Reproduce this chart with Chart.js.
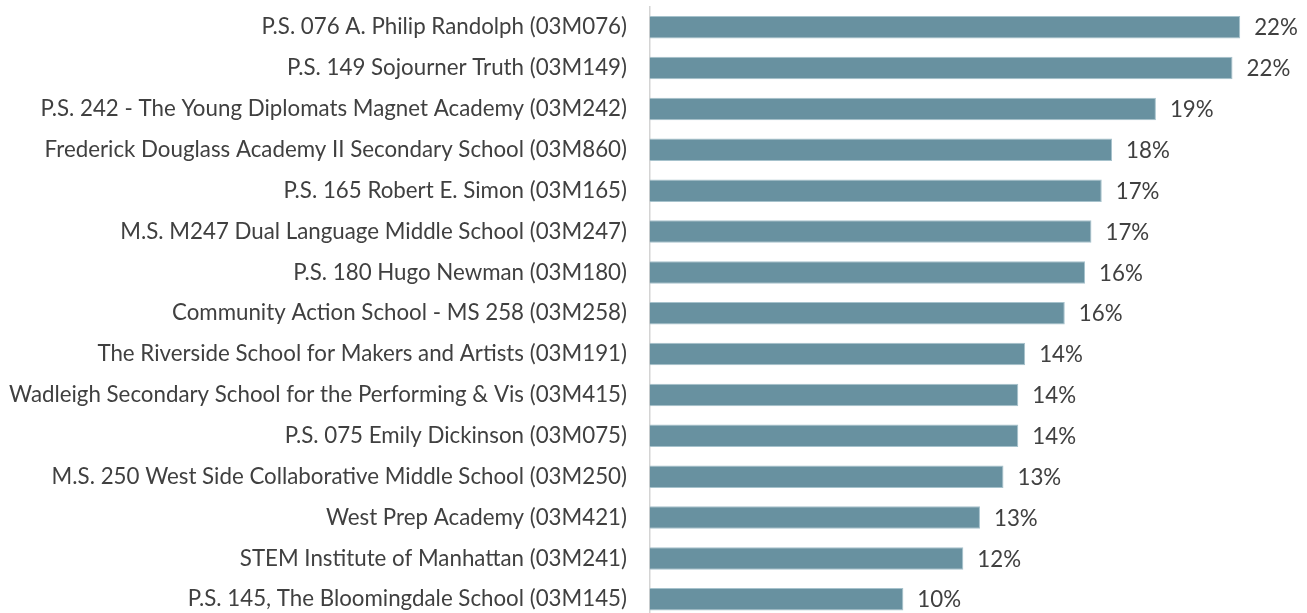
<!DOCTYPE html>
<html>
<head>
<meta charset="utf-8">
<script src="https://cdn.jsdelivr.net/npm/chart.js@4.4.0/dist/chart.umd.min.js"></script>
<style>
  html, body { margin: 0; padding: 0; background: #ffffff; overflow: hidden; }
  #wrap { position: absolute; left: 0; top: 0; width: 1307px; height: 626px; }
</style>
</head>
<body>
<div id="wrap"><canvas id="c"></canvas></div>
<script>
const schools = [
  "P.S. 076 A. Philip Randolph (03M076)",
  "P.S. 149 Sojourner Truth (03M149)",
  "P.S. 242 - The Young Diplomats Magnet Academy (03M242)",
  "Frederick Douglass Academy II Secondary School (03M860)",
  "P.S. 165 Robert E. Simon (03M165)",
  "M.S. M247 Dual Language Middle School (03M247)",
  "P.S. 180 Hugo Newman (03M180)",
  "Community Action School - MS 258 (03M258)",
  "The Riverside School for Makers and Artists (03M191)",
  "Wadleigh Secondary School for the Performing & Vis (03M415)",
  "P.S. 075 Emily Dickinson (03M075)",
  "M.S. 250 West Side Collaborative Middle School (03M250)",
  "West Prep Academy (03M421)",
  "STEM Institute of Manhattan (03M241)",
  "P.S. 145, The Bloomingdale School (03M145)"
];
const percents = [22.36, 22.07, 19.17, 17.51, 17.12, 16.73, 16.49, 15.72, 14.22, 13.96, 13.96, 13.40, 12.51, 11.88, 9.61];

const FONT_FAMILY = "Lato, 'Open Sans', sans-serif";
const FONT_SIZE = 22.3;
const TEXT_COLOR = "#404040";

const valueLabels = {
  id: 'valueLabels',
  afterDatasetsDraw(chart) {
    const ctx = chart.ctx;
    const meta = chart.getDatasetMeta(0);
    ctx.save();
    ctx.font = FONT_SIZE + "px " + FONT_FAMILY;
    ctx.fillStyle = TEXT_COLOR;
    ctx.textAlign = "left";
    ctx.textBaseline = "middle";
    meta.data.forEach((el, i) => {
      const v = chart.data.datasets[0].data[i];
      ctx.fillText(Math.round(v) + "%", el.x + 14, el.y + 1);
    });
    ctx.restore();
  }
};

new Chart(document.getElementById('c'), {
  type: 'bar',
  data: {
    labels: schools,
    datasets: [{
      data: percents,
      backgroundColor: '#6891a0',
      borderColor: '#a6c2cc',
      borderWidth: 1,
      borderSkipped: 'start',
      barPercentage: 0.55,
      categoryPercentage: 1.0
    }]
  },
  options: {
    indexAxis: 'y',
    responsive: true,
    maintainAspectRatio: false,
    animation: false,
    layout: { padding: { left: 0, right: 23.5, top: 6.8, bottom: 6.3 } },
    plugins: { legend: { display: false }, tooltip: { enabled: false } },
    scales: {
      x: { display: false, min: 0, max: 24 },
      y: {
        grid: { display: false, drawTicks: true, tickLength: 22.5, color: 'rgba(0,0,0,0)' },
        border: { display: true, color: '#d4d4d4', width: 1.5 },
        ticks: {
          font: { family: FONT_FAMILY, size: FONT_SIZE, lineHeight: 0.5 },
          color: TEXT_COLOR, padding: 0, autoSkip: false
        },
        afterFit(scale) { scale.width = 649.5; }
      }
    }
  },
  plugins: [valueLabels]
});
</script>
</body>
</html>
